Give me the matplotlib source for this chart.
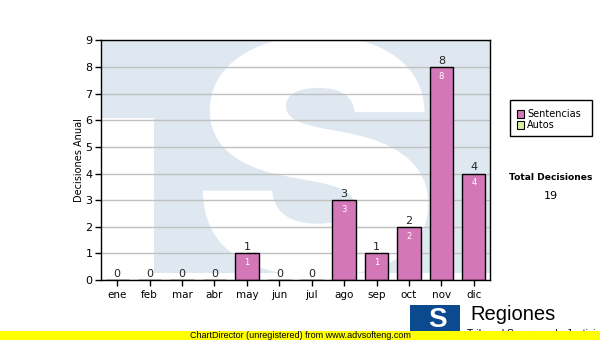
import matplotlib
matplotlib.use("Agg")

import matplotlib.pyplot as plt
from matplotlib.patches import Rectangle, PathPatch
from matplotlib.textpath import TextPath
from matplotlib.font_manager import FontProperties
from matplotlib.transforms import Affine2D

# =========================================================
# DATA
# =========================================================

months      = ["ene", "feb", "mar", "abr", "may", "jun",
               "jul", "ago", "sep", "oct", "nov", "dic"]
sentencias  = [0, 0, 0, 0, 1, 0, 0, 3, 1, 2, 8, 4]
autos       = [0, 0, 0, 0, 0, 0, 0, 0, 0, 0, 0, 0]
series_names = ["Sentencias", "Autos"]
total_label = "19"

# =========================================================
# STYLE
# =========================================================

bar_color   = "#d477b8"
autos_color = "#d8f0a0"
wm_blue     = "#dfe8f1"
logo_blue   = "#0b4a8e"

plt.rcParams["font.family"] = ["DejaVu Sans"]

W, H = 600, 340
fig = plt.figure(figsize=(6, 3.4), dpi=100)
ax = fig.add_axes([101 / W, 60 / H, 389 / W, 239.5 / H])


def fx(px):
    return px / W


def fy(py):
    return 1 - py / H


# =========================================================
# WATERMARK (TS logo in plot area)
# =========================================================

ax.add_patch(Rectangle((0, 0.03), 1, 0.97, transform=ax.transAxes,
                       facecolor=wm_blue, edgecolor="none", zorder=0))
ax.add_patch(Rectangle((0, 0), 53 / 389, 0.677, transform=ax.transAxes,
                       facecolor="white", edgecolor="none", zorder=0))

tp = TextPath((0, 0), "S", size=1,
              prop=FontProperties(family=["Inter", "Liberation Sans"],
                                  weight=900))
ext = tp.get_extents()
x0, x1 = 0.262, 0.841
y0, y1 = 0.017, 1.02
tr = (Affine2D().translate(-ext.x0, -ext.y0)
      .scale((x1 - x0) / ext.width, (y1 - y0) / ext.height)
      .translate(x0, y0))
ax.add_patch(PathPatch(tr.transform_path(tp), facecolor="white",
                       edgecolor="none", transform=ax.transAxes, zorder=0))

# =========================================================
# BARS
# =========================================================

x = list(range(len(months)))
ax.yaxis.grid(True, color="#c0c0c0", linewidth=1.0, zorder=1)
ax.set_axisbelow(True)
ax.bar(x, sentencias, width=0.72, color=bar_color, edgecolor="black",
       linewidth=1.0, zorder=3)

for xi, v in zip(x, sentencias):
    ax.text(xi, v + 0.04, str(v), ha="center", va="bottom",
            fontsize=8, color="#222222", zorder=4)
    if v > 0:
        ax.text(xi, v - 0.18, str(v), ha="center", va="top",
                fontsize=6, color="white", zorder=4)

# =========================================================
# AXES
# =========================================================

ax.set_xlim(-0.5, len(months) - 0.5)
ax.set_ylim(0, 9)
ax.set_yticks(range(0, 10))
ax.set_xticks(x)
ax.set_xticklabels(months, fontsize=7.5)
ax.tick_params(axis="y", labelsize=8, length=4, width=1, pad=2)
ax.tick_params(axis="x", length=4, width=1, pad=3)
for sp in ax.spines.values():
    sp.set_linewidth(1.0)
    sp.set_color("black")
    sp.set_zorder(5)

ax.set_ylabel("Decisiones Anual", fontsize=7, labelpad=1)

# =========================================================
# LEGEND (drawn by hand to match the box) + TOTAL
# =========================================================

fig.patches.append(Rectangle((fx(510), fy(136)), 82 / W, 36 / H,
                             transform=fig.transFigure, facecolor="white",
                             edgecolor="black", lw=1.0))
for name, col, cy in zip(series_names, [bar_color, autos_color], [114, 125]):
    fig.patches.append(Rectangle((fx(517), fy(cy + 3.5)), 7 / W, 7 / H,
                                 transform=fig.transFigure, facecolor=col,
                                 edgecolor="black", lw=0.8))
    fig.text(fx(527), fy(cy), name, ha="left", va="center", fontsize=7)

fig.text(fx(551), fy(178), "Total Decisiones", ha="center",
         va="center", fontsize=6.6, fontweight="bold")
fig.text(fx(551), fy(196), total_label, ha="center",
         va="center", fontsize=8)

# =========================================================
# FOOTER (logo + unregistered banner)
# =========================================================

fig.patches.append(Rectangle((fx(410), fy(334)), 50 / W, 29 / H,
                             transform=fig.transFigure, facecolor=logo_blue,
                             edgecolor="none", zorder=1))
fig.text(fx(437), fy(320), "S", ha="center", va="center",
         fontsize=20, fontweight="bold", color="white",
         family="Liberation Sans", zorder=2)
fig.text(fx(470), fy(315), "Regiones", ha="left", va="center",
         fontsize=14.5, family="Liberation Sans", color="black", zorder=2)
fig.text(fx(467), fy(334), "Tribunal Supremo de Justicia",
         ha="left", va="center", fontsize=7.5, family="Liberation Sans",
         zorder=2)

fig.patches.append(Rectangle((0, 0), 1, 9 / H, transform=fig.transFigure,
                             facecolor="#ffff00", edgecolor="none", zorder=3))
fig.text(0.5, 4.5 / H, "ChartDirector (unregistered) from www.advsofteng.com",
         ha="center", va="center", fontsize=6.5, family="Liberation Sans",
         zorder=4)

fig.savefig("out.png", dpi=100)
